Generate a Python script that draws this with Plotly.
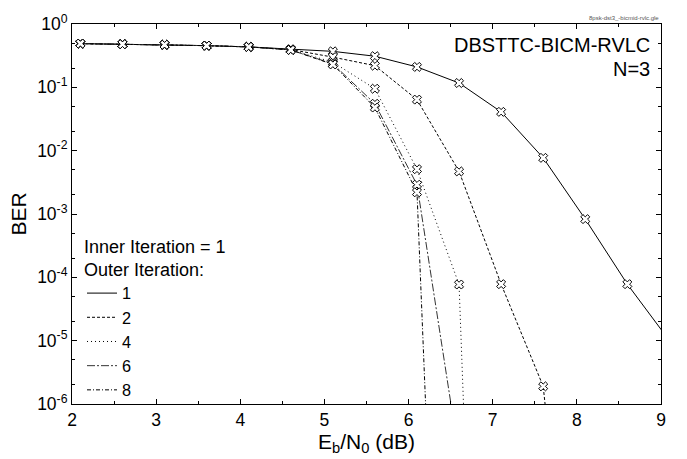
import plotly.graph_objects as go

# ---- data ----
x1 = [2.1, 2.6, 3.1, 3.6, 4.1, 4.6, 5.1, 5.6, 6.1, 6.6, 7.1, 7.6, 8.1, 8.6, 9.1]
ber1 = [0.49, 0.48, 0.47, 0.455, 0.435, 0.40, 0.37, 0.31, 0.21, 0.117, 0.041, 0.0077, 8.3e-4, 7.8e-5, 1.0e-5]

x2 = [2.1, 2.6, 3.1, 3.6, 4.1, 4.6, 5.1, 5.6, 6.1, 6.6, 7.1, 7.6, 8.1]
ber2 = [0.49, 0.48, 0.47, 0.455, 0.435, 0.395, 0.30, 0.22, 0.064, 0.0047, 7.8e-5, 1.9e-6, 1e-12]

x4 = [2.1, 2.6, 3.1, 3.6, 4.1, 4.6, 5.1, 5.6, 6.1, 6.6, 7.1]
ber4 = [0.49, 0.48, 0.47, 0.455, 0.435, 0.39, 0.25, 0.095, 0.0051, 7.7e-5, 1e-22]

x6 = [2.1, 2.6, 3.1, 3.6, 4.1, 4.6, 5.1, 5.6, 6.1, 6.6]
ber6 = [0.49, 0.48, 0.47, 0.455, 0.435, 0.39, 0.235, 0.055, 0.0029, 1.5e-7]

x8 = [2.1, 2.6, 3.1, 3.6, 4.1, 4.6, 5.1, 5.6, 6.1, 6.6]
ber8 = [0.49, 0.48, 0.47, 0.455, 0.435, 0.39, 0.23, 0.048, 0.0022, 1e-19]

series_names = ["1", "2", "4", "6", "8"]
y_tickvals = [1, 1e-1, 1e-2, 1e-3, 1e-4, 1e-5, 1e-6]
y_ticktext = ["10<sup>0</sup>", "10<sup>-1</sup>", "10<sup>-2</sup>", "10<sup>-3</sup>",
              "10<sup>-4</sup>", "10<sup>-5</sup>", "10<sup>-6</sup>"]

FONT = "Liberation Sans, Arial, sans-serif"
dashes = ["solid", "3px,2px", "1px,3px", "8px,2px,2px,2px", "4px,2px,1px,2px"]
colors = ["#000000", "#000000", "#000000", "#333333", "#000000"]
xs = [x1, x2, x4, x6, x8]
ys = [ber1, ber2, ber4, ber6, ber8]

fig = go.Figure()
for xv, yv, d, c in zip(xs, ys, dashes, colors):
    fig.add_trace(go.Scatter(
        x=xv, y=yv, mode="lines+markers", showlegend=False,
        line=dict(color=c, width=1, dash=d),
        marker=dict(symbol="x", size=8, color="white", line=dict(color="black", width=1)),
    ))
# legend-only entries (lines without markers)
for name, d, c in zip(series_names, dashes, colors):
    fig.add_trace(go.Scatter(
        x=[None], y=[None], mode="lines", name=name,
        line=dict(color=c, width=1, dash=d),
    ))

fig.update_layout(
    width=687, height=459,
    margin=dict(l=72, r=26, t=15, b=51),
    paper_bgcolor="white", plot_bgcolor="white",
    font=dict(family=FONT, size=18, color="black"),
    legend=dict(
        x=0.017, y=0.46, xanchor="left", yanchor="top",
        bgcolor="rgba(0,0,0,0)",
        title=dict(text="Inner Iteration = 1<br>Outer Iteration:", font=dict(size=18)),
        font=dict(size=16.3), tracegroupgap=0, itemwidth=30,
    ),
    xaxis=dict(
        range=[2, 9], dtick=1, tick0=2,
        showline=True, linecolor="black", linewidth=1, mirror="ticks",
        ticks="inside", ticklen=5, tickcolor="black",
        minor=dict(dtick=0.5, ticks="inside", ticklen=3, tickcolor="black"),
        showgrid=False, zeroline=False,
        tickfont=dict(size=17.5),
        title=dict(text="E<sub>b</sub>/N<sub>0</sub> (dB)", font=dict(size=21), standoff=2),
    ),
    yaxis=dict(
        type="log", range=[-6, 0],
        tickvals=y_tickvals, ticktext=y_ticktext,
        showline=True, linecolor="black", linewidth=1, mirror="ticks",
        ticks="inside", ticklen=5, tickcolor="black",
        minor=dict(ticks="inside", ticklen=3, tickcolor="black", showgrid=False),
        showgrid=False, zeroline=False,
        tickfont=dict(size=17.5),
        title=dict(text="BER", font=dict(size=21), standoff=4),
    ),
    annotations=[
        dict(text="DBSTTC-BICM-RVLC", x=0.985, y=0.945, xref="paper", yref="paper",
             xanchor="right", yanchor="middle", showarrow=False, font=dict(size=20)),
        dict(text="N=3", x=0.985, y=0.882, xref="paper", yref="paper",
             xanchor="right", yanchor="middle", showarrow=False, font=dict(size=20)),
        dict(text="8psk-dst3_-bicmid-rvlc.gle", x=1.0, y=1.0, xref="paper", yref="paper",
             xanchor="right", yanchor="bottom", showarrow=False, yshift=1,
             font=dict(size=6, color="#555555")),
    ],
)

fig.write_html("out.html")
